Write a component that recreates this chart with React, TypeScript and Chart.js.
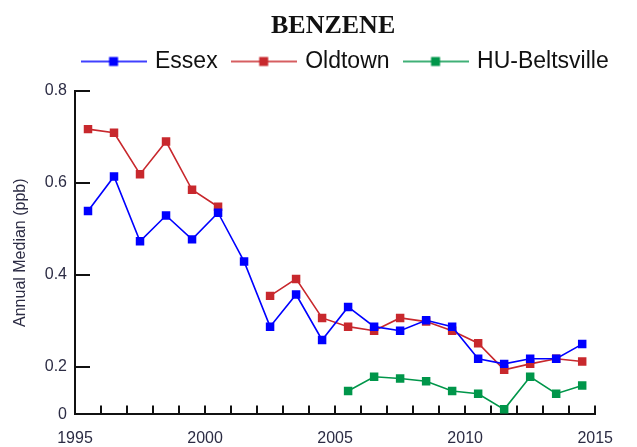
import React, { useEffect, useRef } from 'react';
import { Chart, registerables } from 'chart.js';

Chart.register(...registerables);

// ---- data (annual medians, ppb) ----
const years = [1995, 1996, 1997, 1998, 1999, 2000, 2001, 2002, 2003, 2004, 2005, 2006, 2007, 2008, 2009, 2010, 2011, 2012, 2013, 2014];
const essex = [0.539, 0.614, 0.473, 0.529, 0.477, 0.535, 0.429, 0.287, 0.357, 0.258, 0.330, 0.287, 0.278, 0.301, 0.287, 0.217, 0.206, 0.217, 0.217, 0.249];
const oldtown = [0.717, 0.709, 0.619, 0.690, 0.585, 0.548, null, 0.354, 0.391, 0.306, 0.287, 0.278, 0.306, 0.298, 0.278, 0.251, 0.193, 0.206, 0.217, 0.211];
const beltsville = [null, null, null, null, null, null, null, null, null, null, 0.147, 0.178, 0.174, 0.168, 0.147, 0.141, 0.107, 0.178, 0.141, 0.159];

const seriesNames = ['Essex', 'Oldtown', 'HU-Beltsville'];
const seriesColors = ['#0000ff', '#c8282d', '#00964a'];

// ---- axes ----
const xLabelYears = [1995, 2000, 2005, 2010, 2015];
const xMin = 1995;
const xMax = 2015;
const yTickValues = [0.2, 0.4, 0.6, 0.8];
const yMin = 0.096; // bottom of the plotted range, labelled "0" in the source
const yMax = 0.8;
const yBottomLabel = '0';

const titleText = 'BENZENE';
const yTitle = 'Annual Median (ppb)';

function toPoints(values: (number | null)[]) {
  return years.map((yr, i) => ({ x: yr + 0.5, y: values[i] }));
}

function makeMarker(color: string): HTMLCanvasElement {
  const c = document.createElement('canvas');
  c.width = 66;
  c.height = 12;
  const ctx = c.getContext('2d')!;
  ctx.strokeStyle = color;
  ctx.lineWidth = 1.6;
  ctx.beginPath();
  ctx.moveTo(0, 6);
  ctx.lineTo(66, 6);
  ctx.stroke();
  ctx.fillStyle = color;
  ctx.fillRect(33 - 4.5, 1.5, 9, 9);
  return c;
}

// centre the title and legend over the plot area (as in the source figure)
const centerOverPlot = {
  id: 'centerOverPlot',
  afterLayout(chart: any) {
    const ca = chart.chartArea;
    const mid = (ca.left + ca.right) / 2;
    [chart.legend, chart.titleBlock].forEach((b: any, i: number) => {
      if (!b) return;
      const off = i === 1 ? -2 : 11;
      const d = mid + off - (b.left + b.right) / 2;
      b.left += d;
      b.right += d;
    });
  },
};

export default function App() {
  const ref = useRef<HTMLCanvasElement | null>(null);

  useEffect(() => {
    document.body.style.margin = '0';
    const canvas = ref.current;
    if (!canvas) return;
    const markers = seriesColors.map(makeMarker);
    const allValues = [essex, oldtown, beltsville];

    const chart = new Chart(canvas, {
      type: 'line',
      data: {
        datasets: allValues.map((vals, i) => ({
          label: seriesNames[i],
          data: toPoints(vals),
          borderColor: seriesColors[i],
          backgroundColor: seriesColors[i],
          borderWidth: 1.6,
          pointStyle: 'rect',
          pointRadius: 6,
          pointBorderWidth: 0,
          pointBackgroundColor: seriesColors[i],
          spanGaps: false,
          tension: 0,
        })),
      },
      plugins: [centerOverPlot],
      options: {
        animation: false,
        responsive: true,
        maintainAspectRatio: false,
        events: [],
        layout: { padding: { left: 0, right: 22, top: 0, bottom: 0 } },
        plugins: {
          tooltip: { enabled: false },
          title: {
            display: true,
            text: titleText,
            color: '#111',
            font: { family: '"Liberation Serif", serif', size: 26, weight: 'bold', lineHeight: 1 },
            padding: { top: 13, bottom: -5 },
          },
          legend: {
            display: true,
            position: 'top',
            weight: 1000,
            labels: {
              usePointStyle: true,
              pointStyleWidth: 60,
              padding: 16,
              color: '#111',
              font: { family: '"Liberation Sans", Arial, sans-serif', size: 23 },
              generateLabels: (ch: any) => {
                const items = (Chart.defaults.plugins.legend.labels as any).generateLabels(ch);
                return items.map((it: any, i: number) => ({ ...it, pointStyle: markers[i], lineWidth: 0 }));
              },
            },
          },
          subtitle: {
            display: true,
            text: '',
            weight: 500,
            font: { size: 8, lineHeight: 1 },
            padding: 0,
          } as any,
        },
        scales: {
          x: {
            type: 'linear',
            min: xMin,
            max: xMax,
            border: { display: true, color: '#111', width: 2 },
            grid: { drawOnChartArea: false, drawTicks: true, tickLength: -9, color: '#111', lineWidth: 2 },
            ticks: {
              stepSize: 1,
              autoSkip: false,
              maxRotation: 0,
              padding: 24,
              color: '#2c2c44',
              font: { family: '"Liberation Sans", Arial, sans-serif', size: 16 },
              callback: (v: any) => (xLabelYears.includes(Number(v)) ? String(v) : ''),
            },
            afterFit: (s: any) => {
              s.height = 32;
            },
          },
          y: {
            type: 'linear',
            min: yMin,
            max: yMax,
            border: { display: true, color: '#111', width: 2 },
            grid: { drawOnChartArea: false, drawTicks: true, tickLength: -15, color: '#111', lineWidth: 2 },
            afterBuildTicks: (s: any) => {
              s.ticks = [yMin, ...yTickValues].map((v) => ({ value: v }));
            },
            ticks: {
              padding: 23,
              color: '#2c2c44',
              font: { family: '"Liberation Sans", Arial, sans-serif', size: 16 },
              callback: (v: any) => (Number(v) === yMin ? yBottomLabel : Number(v).toFixed(1)),
            },
            title: {
              display: true,
              text: yTitle,
              color: '#2c2c44',
              font: { family: '"Liberation Sans", Arial, sans-serif', size: 16, lineHeight: 1.2 },
              padding: { top: 11, bottom: 0 },
            },
            afterFit: (s: any) => {
              s.width = 75;
            },
          },
        },
      } as any,
    });
    return () => chart.destroy();
  }, []);

  return (
    <div style={{ position: 'relative', width: 637, height: 447 }}>
      <canvas ref={ref} />
    </div>
  );
}
